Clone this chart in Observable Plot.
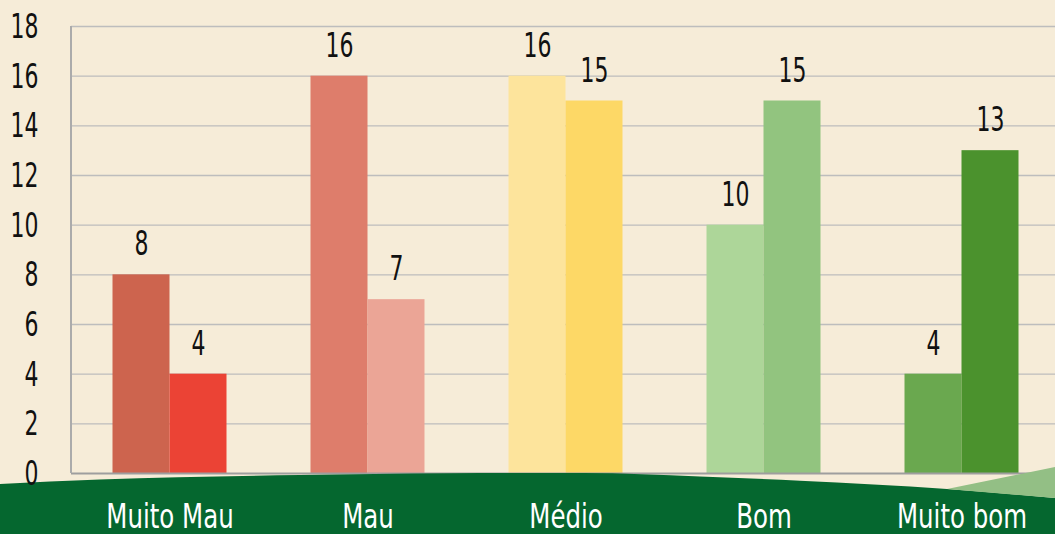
<!DOCTYPE html>
<html><head><meta charset="utf-8">
<script src="https://cdn.jsdelivr.net/npm/d3@7"></script>
<script src="https://cdn.jsdelivr.net/npm/@observablehq/plot@0.6"></script>
<style>
html,body{margin:0;padding:0;background:#F6ECD8;}
#chart{width:1055px;height:534px;overflow:hidden;}
</style></head><body><div id="chart"></div>
<script>
const categories = ["Muito Mau", "Mau", "Médio", "Bom", "Muito bom"];
const series1 = [8, 16, 16, 10, 4];
const series2 = [4, 7, 15, 15, 13];
const yTicks = [0, 2, 4, 6, 8, 10, 12, 14, 16, 18];
const colors1 = ["#CD644E", "#DE7D6B", "#FDE49C", "#ADD699", "#6AA84F"];
const colors2 = ["#EB4335", "#EBA596", "#FDD866", "#92C47F", "#4B922D"];

const data1 = categories.map((c, i) => ({cat: c, v: series1[i], color: colors1[i]}));
const data2 = categories.map((c, i) => ({cat: c, v: series2[i], color: colors2[i]}));

const FONT = "'Liberation Sans Narrow','DejaVu Sans Condensed','Roboto',sans-serif";
const FS_NUM = 33;
const FS_CAT = 34;

function axisLine(index, scales, values, dim) {
  const g = d3.create("svg:g");
  g.append("line")
    .attr("x1", dim.marginLeft).attr("x2", dim.marginLeft)
    .attr("y1", scales.y(18)).attr("y2", scales.y(0))
    .attr("stroke", "#ABABAB").attr("stroke-width", 2);
  return g.node();
}

function decoration(index, scales, values, dim) {
  const g = d3.create("svg:g");
  const pts = [[0,484],[100,479.5],[300,475],[450,473.2],[583,473],[700,476.5],[800,480.7],[947,489],[1055,498]];
  const top = d3.line().curve(d3.curveMonotoneX)(pts);
  g.append("path").attr("d", top + "L1055,534L0,534Z").attr("fill", "#05672F");
  g.append("path").attr("d", "M947,489L1055,467L1055,498Z").attr("fill", "#93BF85");
  return g.node();
}

const chart = Plot.plot({
  width: 1055,
  height: 534,
  marginTop: 26,
  marginBottom: 61,
  marginLeft: 71,
  marginRight: 0,
  style: {background: "transparent", fontFamily: FONT, fontSize: FS_NUM + "px", color: "#111"},
  x: {domain: categories, range: [71, 1061], paddingInner: 0.712, paddingOuter: 0.356, axis: null},
  y: {domain: [0, 18], axis: null},
  marks: [
    Plot.ruleY(yTicks.filter(t => t > 0), {stroke: "#BDBDBD", strokeWidth: 1.3}),
    Plot.barY(data1, {x: "cat", y: "v", fill: d => d.color, dx: -28.5}),
    Plot.barY(data2, {x: "cat", y: "v", fill: d => d.color, dx: 28.5}),
    Plot.ruleY([0], {stroke: "#9E9E9E", strokeWidth: 2}),
    axisLine,
    decoration,
    Plot.text(yTicks, {y: d => d, frameAnchor: "left", textAnchor: "end", dx: -33, dy: 1, text: d => String(d), fontSize: FS_NUM, fill: "#111"}),
    Plot.text(categories, {x: d => d, frameAnchor: "bottom", dy: 54, text: d => d, fontSize: FS_CAT, fill: "white"}),
    Plot.text(data1, {x: "cat", y: "v", dx: -28.5, dy: -30, text: d => String(d.v), fontSize: FS_NUM, fill: "#111"}),
    Plot.text(data2, {x: "cat", y: "v", dx: 28.5, dy: -30, text: d => String(d.v), fontSize: FS_NUM, fill: "#111"})
  ]
});

// condense glyphs horizontally (the reference uses a narrow DIN-like face)
chart.querySelectorAll("text").forEach(t => {
  const s = /^\d+$/.test(t.textContent.trim()) ? 0.74 : 0.8;
  const tr = t.getAttribute("transform");
  const xa = t.getAttribute("x");
  if (xa !== null) {
    const x = +xa;
    t.setAttribute("transform", (tr ? tr + " " : "") + `translate(${x},0) scale(${s},1) translate(${-x},0)`);
  } else {
    t.setAttribute("transform", (tr ? tr + " " : "") + `scale(${s},1)`);
  }
});
document.getElementById("chart").appendChild(chart);
</script>
</body></html>
